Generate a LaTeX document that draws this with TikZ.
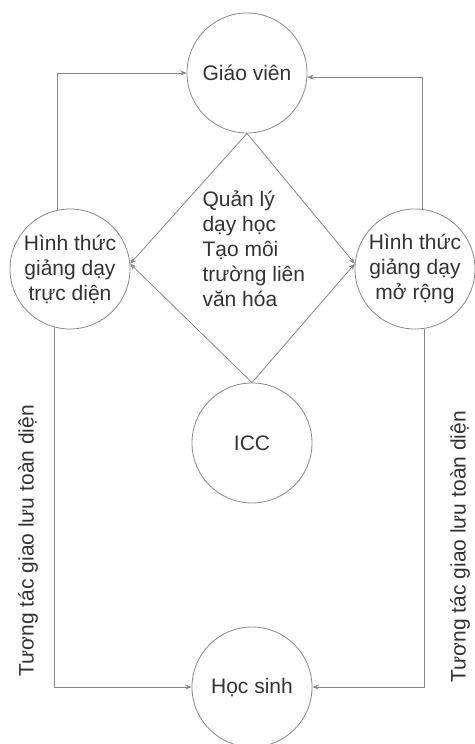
\documentclass[tikz,border=0pt]{standalone}
\usepackage{fontspec}
\setmainfont{Liberation Sans}
\usetikzlibrary{arrows.meta,positioning}
\definecolor{wire}{RGB}{135,135,135}
\definecolor{ink}{RGB}{50,50,50}
\tikzset{
  >={Stealth[length=2.2mm,width=1.8mm]},
  actor/.style={circle,draw=wire,thick,minimum size=120pt,inner sep=0pt,
    align=center,text=ink,font=\fontsize{21}{25}\selectfont},
  link/.style={->,draw=wire,thick},
  side label/.style={rotate=90,text=ink,font=\fontsize{21}{25}\selectfont},
}
\begin{document}
\begin{tikzpicture}[x=1pt,y=1pt]
  \useasboundingbox (0,0) rectangle (474,744);
  % circles
  \node[actor] (gv) at (247,671) {Giáo viên};
  \node[actor] (lf) at (70,475) {Hình thức\\giảng dạy\\trực diện};
  \node[actor] (rt) at (415,475) {Hình thức\\giảng dạy\\mở rộng};
  \node[actor] (icc) at (252,301) {ICC};
  \node[actor] (hs) at (252,57) {Học sinh};
  % diamond
  \draw[link] (gv.south) -- (lf.5);
  \draw[link] (gv.south) -- (rt.175);
  \draw[link] (icc.north) -- (lf.5);
  \draw[link] (icc.north) -- (rt.175);
  \node[anchor=west,align=left,text=ink,font=\fontsize{21}{25}\selectfont] (mgmt) at (199,495)
    {Quản lý\\dạy học\\Tạo môi\\trường liên\\văn hóa};
  % outer loops
  \draw[link] (lf.102) |- (gv.west);
  \draw[link] (rt.83) |- (gv.-4);
  \draw[link] (lf.255) |- (hs.west);
  \draw[link] (rt.279) |- (hs.east);
  \node[side label] (tl) at (28,203) {Tương tác giao lưu toàn diện};
  \node[side label] (tr) at (460,197) {Tương tác giao lưu toàn diện};
\end{tikzpicture}
\end{document}
